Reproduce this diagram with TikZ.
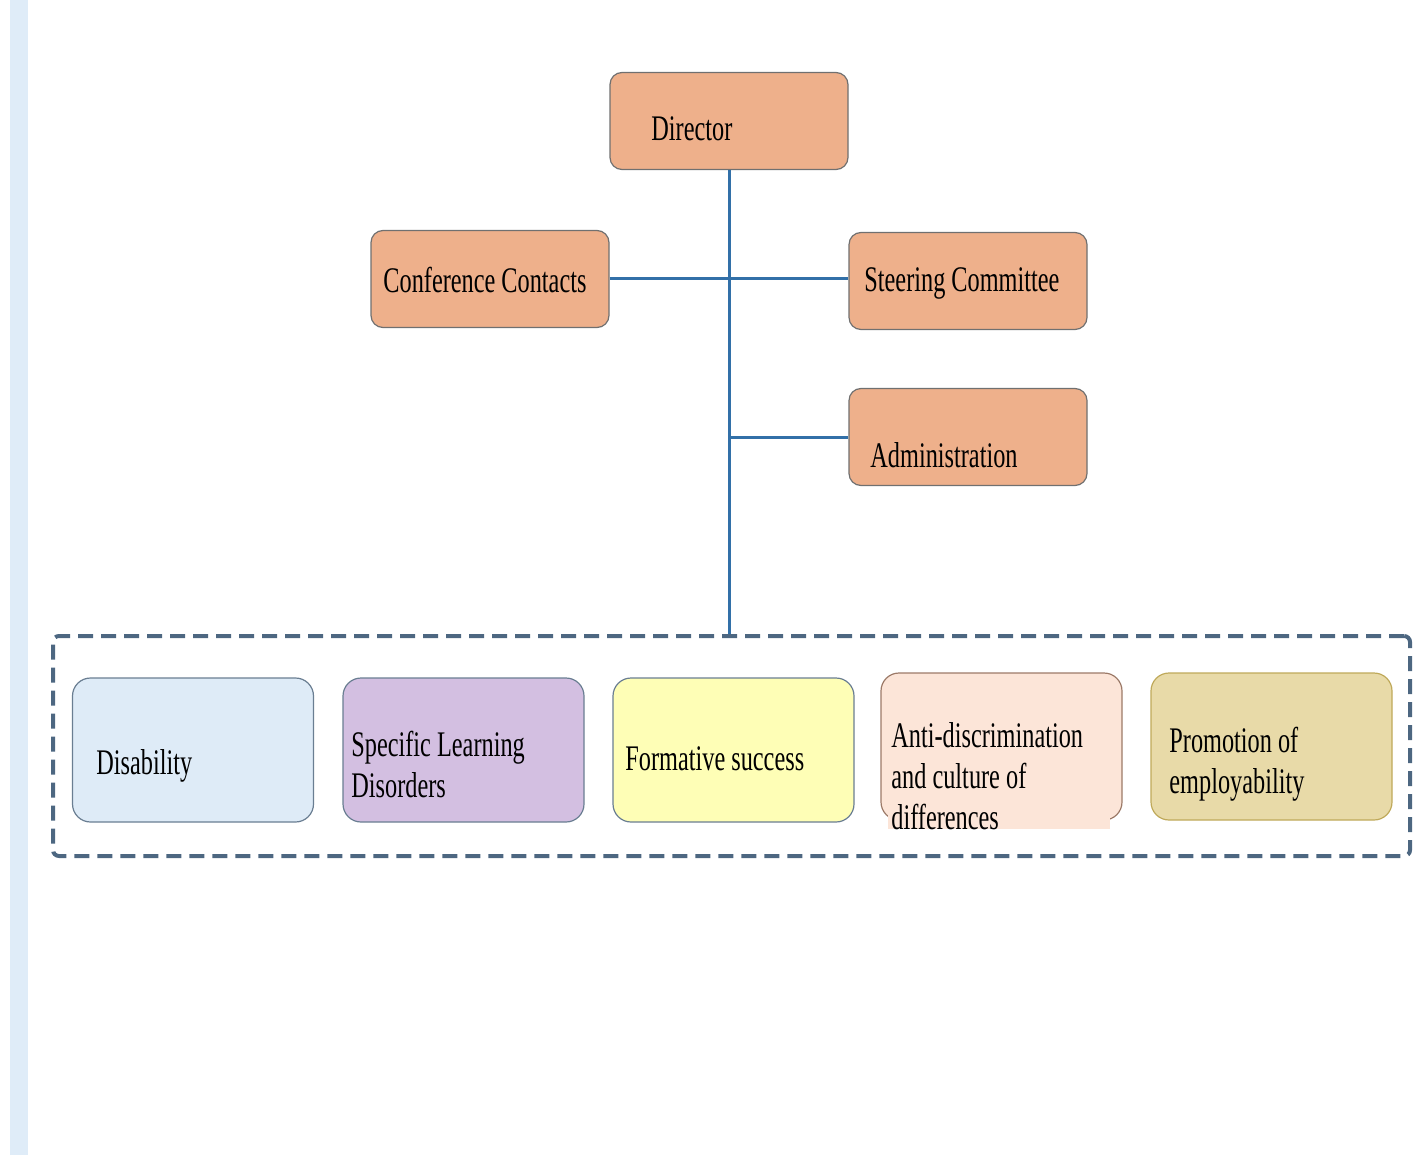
\documentclass[tikz,border=0pt]{standalone}
\usepackage{fontspec}
\setmainfont{Liberation Serif}[FakeStretch=0.675]
\usetikzlibrary{positioning}

\definecolor{stripblue}{HTML}{DFECF8}
\definecolor{peach}{HTML}{EEB08B}
\definecolor{boxedge}{HTML}{707070}
\definecolor{linkblue}{HTML}{3270A8}
\definecolor{dashgray}{HTML}{4D6781}
\definecolor{disfill}{HTML}{DEEBF7}
\definecolor{disedge}{HTML}{6A7E92}
\definecolor{sldfill}{HTML}{D3BFE1}
\definecolor{formfill}{HTML}{FEFEB6}
\definecolor{antifill}{HTML}{FCE5D8}
\definecolor{antiedge}{HTML}{9C7A68}
\definecolor{promfill}{HTML}{E8DAA8}
\definecolor{promedge}{HTML}{BFA95A}

\begin{document}
\begin{tikzpicture}[x=0.5pt,y=-0.5pt,
                    topbox/.style={draw=boxedge, fill=peach, line width=0.6pt,
                        rounded corners=6pt, minimum width=119pt, minimum height=48.5pt},
                    areabox/.style={line width=0.6pt, rounded corners=9pt,
                        minimum width=120.5pt, minimum height=72pt},
                    lbl/.style={anchor=west, inner sep=0pt, align=left,
                        font=\fontsize{18}{20.5}\selectfont},
                    link/.style={draw=linkblue, line width=1.5pt}]
                    \useasboundingbox (0,0) rectangle (1413,1155);
                    \fill[stripblue] (10,0) rectangle (28,1155);

                    % top of the chart
                    \node (director) [topbox] at (729,121) {};
                    \node (conf) [topbox] at (490,279) {};
                    \node (steer) [topbox] at (968,281) {};
                    \node (admin) [topbox] at (968,437) {};

                    \node (directorText) [lbl] at (651,129) {Director};
                    \node (confText) [lbl] at (383,280) {Conference Contacts};
                    \node (steerText) [lbl] at (864,283) {Steering Committee};
                    \node (adminText) [lbl] at (870,455) {Administration};

                    % the group of areas
                    \node (group) [draw=dashgray, line width=2pt, dash pattern=on 7.5pt off 4pt,
                        rounded corners=3pt, minimum width=678.5pt, minimum height=110pt]
                        at (731.5,746) {};

                    \draw[link] (director.south) -- (director.south |- group.north);
                    \draw[link] (conf.east) -- (conf.east -| steer.west);
                    \draw[link] (director.south |- admin.west) -- (admin.west);

                    \node (dis) [areabox, draw=disedge, fill=disfill] at (193,750) {};
                    \node (sld) [areabox, draw=disedge, fill=sldfill] at (463.5,750) {};
                    \node (form) [areabox, draw=disedge, fill=formfill] at (733.5,750) {};
                    \node (anti) [areabox, draw=antiedge, fill=antifill, minimum height=73.5pt]
                        at (1001.5,746.5) {};
                    \node (prom) [areabox, draw=promedge, fill=promfill, minimum height=73.5pt]
                        at (1271.5,746.5) {};
                    % text frame hiding the lower edge
                    \fill[antifill] (888,798) rectangle (1110,829);

                    \node (disText) [lbl] at (96,766) {Disability};
                    \node (sldText) [lbl] at (351,764) {Specific Learning\\Disorders};
                    \node (formText) [lbl] at (625,759) {Formative success};
                    \node (antiText) [lbl] at (891,776)
                        {Anti-discrimination\\and culture of\\differences};
                    \node (promText) [lbl] at (1169,764) {Promotion of\\employability};
\end{tikzpicture}
\end{document}
